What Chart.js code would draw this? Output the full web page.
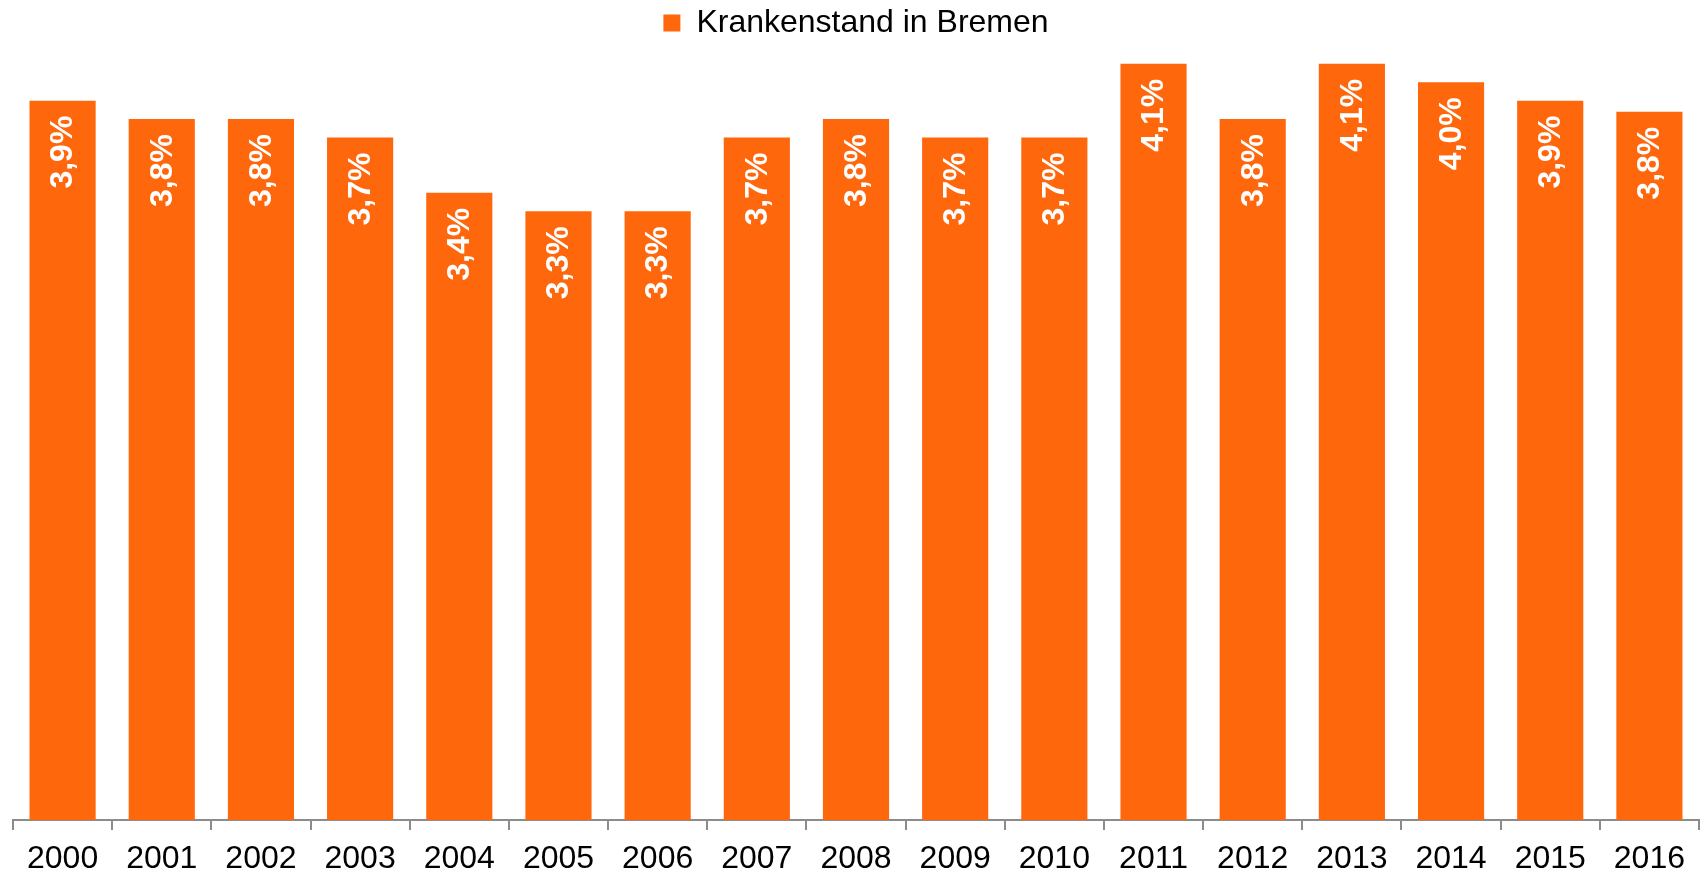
<!DOCTYPE html>
<html>
<head>
<meta charset="utf-8">
<script src="https://cdn.jsdelivr.net/npm/chart.js@4"></script>
<style>
  html, body { margin: 0; padding: 0; background: #fff; }
  #wrap { width: 1707px; height: 875px; }
</style>
</head>
<body>
<div id="wrap"><canvas id="chart" width="1707" height="875"></canvas></div>
<script>
const years = ['2000', '2001', '2002', '2003', '2004', '2005', '2006', '2007', '2008',
    '2009', '2010', '2011', '2012', '2013', '2014', '2015', '2016'];
const krankenstand = [3.9, 3.8, 3.8, 3.7, 3.4, 3.3, 3.3, 3.7, 3.8, 3.7, 3.7, 4.1, 3.8, 4.1, 4.0, 3.9, 3.84];
const seriesLabel = 'Krankenstand in Bremen';

const barColor = '#ff670d';
const axisColor = '#8c8c8c';
const fontFamily = '"Liberation Sans", Arial, sans-serif';

const formatValue = (v) => `${v.toFixed(1).replace('.', ',')}%`;

// rotated white labels at the top inside each bar
const barLabels = {
    id: 'barLabels',
    afterDatasetsDraw(chart) {
        const { ctx } = chart;
        const meta = chart.getDatasetMeta(0);
        ctx.save();
        ctx.fillStyle = '#ffffff';
        ctx.font = `bold 32px ${fontFamily}`;
        ctx.textAlign = 'right';
        ctx.textBaseline = 'middle';
        meta.data.forEach((bar, i) => {
            ctx.save();
            ctx.translate(bar.x, bar.y + 15);
            ctx.rotate(-Math.PI / 2);
            ctx.fillText(formatValue(krankenstand[i]), 0, 1);
            ctx.restore();
        });
        ctx.restore();
    },
};

new Chart(document.getElementById('chart'), {
    type: 'bar',
    data: {
        labels: years,
        datasets: [{
            label: seriesLabel,
            data: krankenstand,
            backgroundColor: barColor,
            borderWidth: 0,
            barPercentage: 0.667,
            categoryPercentage: 1,
        }],
    },
    options: {
        responsive: false,
        animation: false,
        layout: {
            padding: { left: 13, right: 8, top: 2, bottom: 0 },
        },
        plugins: {
            legend: {
                position: 'top',
                labels: {
                    color: '#000',
                    boxWidth: 17,
                    boxHeight: 17,
                    padding: 5,
                    font: { family: fontFamily, size: 32 },
                },
            },
            tooltip: { enabled: false },
        },
        scales: {
            x: {
                afterFit: (scale) => {
                    scale.height = 55;
                },
                grid: {
                    offset: true,
                    drawOnChartArea: false,
                    drawTicks: true,
                    tickLength: 10,
                    color: axisColor,
                    lineWidth: 2,
                },
                border: { display: true, color: axisColor, width: 2 },
                ticks: {
                    color: '#000',
                    padding: 10,
                    font: { family: fontFamily, size: 32 },
                    maxRotation: 0,
                },
            },
            y: {
                display: false,
                min: 0,
                max: 4.18,
            },
        },
    },
    plugins: [barLabels],
});
</script>
</body>
</html>
